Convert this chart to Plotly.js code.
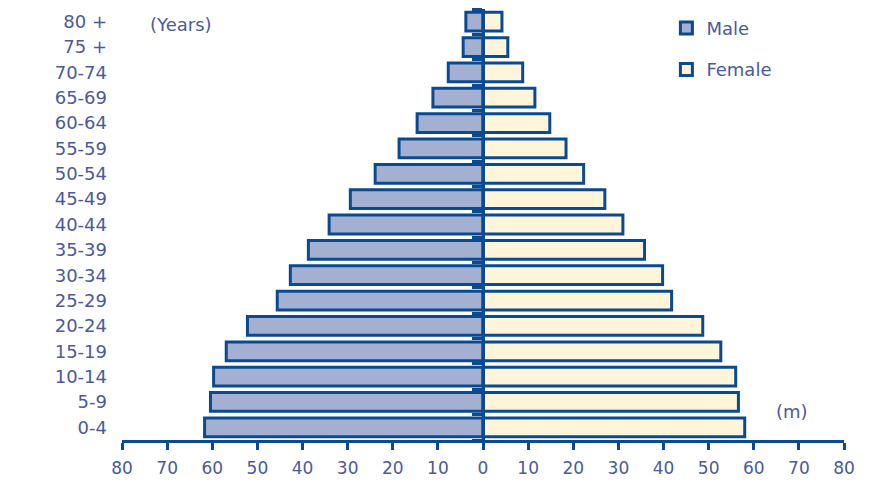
<!DOCTYPE html>
<html>
<head>
<meta charset="utf-8">
<script src="https://cdn.plot.ly/plotly-3.0.1.min.js"></script>
<style>html,body{margin:0;padding:0;background:#fff;}#chart{width:869px;height:482px;}</style>
</head>
<body>
<div id="chart"></div>
<script>
// Age groups (bottom to top)
const ageGroups = ["0-4","5-9","10-14","15-19","20-24","25-29","30-34","35-39","40-44","45-49","50-54","55-59","60-64","65-69","70-74","75 +","80 +"];
// Population in millions
const maleValues   = [61.7, 60.4, 59.7, 56.9, 52.2, 45.6, 42.7, 38.7, 34.1, 29.4, 23.9, 18.6, 14.6, 11.1, 7.7, 4.4, 3.8];
const femaleValues = [58.0, 56.6, 56.0, 52.7, 48.7, 41.8, 39.8, 35.8, 31.0, 27.0, 22.3, 18.4, 14.8, 11.5, 8.8, 5.5, 4.2];
const xTickVals = [-80,-70,-60,-50,-40,-30,-20,-10,0,10,20,30,40,50,60,70,80];
const xTickText = ["80","70","60","50","40","30","20","10","0","10","20","30","40","50","60","70","80"];

const dark = "#0b4a90";
const textCol = "#4a5a9c";
const font = {family: "DejaVu Sans, Verdana, sans-serif", size: 18, color: textCol};

const male = {
  type: "bar", orientation: "h", name: "Male",
  y: ageGroups, x: maleValues.map(v => -v),
  yaxis: "y", legendgroup: "m",
  marker: {color: "#a3b0d1", line: {color: dark, width: 3}},
  hoverinfo: "skip"
};
const female = {
  type: "bar", orientation: "h", name: "Female",
  y: ageGroups, x: femaleValues,
  yaxis: "y2", legendgroup: "f",
  marker: {color: "#fff5da", line: {color: dark, width: 3}},
  hoverinfo: "skip"
};

const layout = {
  width: 869, height: 482,
  margin: {l: 122, r: 25, t: 9, b: 42},
  paper_bgcolor: "#fff", plot_bgcolor: "#fff",
  font: font,
  barmode: "overlay",
  bargap: 0.26,
  showlegend: true,
  legend: {x: 0.754, y: 0.998, xanchor: "left", yanchor: "top", traceorder: "grouped",
           tracegroupgap: 15, font: font, bgcolor: "rgba(0,0,0,0)"},
  xaxis: {range: [-80, 80], tickmode: "array", tickvals: xTickVals, ticktext: xTickText,
          showline: true, linecolor: dark, linewidth: 3, ticks: "outside", ticklen: 7,
          tickwidth: 3, tickcolor: dark, showgrid: false, zeroline: false,
          tickfont: {family: font.family, size: 17, color: textCol},
          ticklabelstandoff: 4, fixedrange: true},
  yaxis: {type: "category", categoryorder: "array", categoryarray: ageGroups,
          range: [-0.5, 16.5], showline: false, ticks: "", showgrid: false,
          zeroline: false, ticklabelstandoff: 14, fixedrange: true},
  yaxis2: {type: "category", categoryorder: "array", categoryarray: ageGroups,
           range: [-0.5, 16.5], overlaying: "y", anchor: "free", position: 0.5, side: "left",
           showline: true, linecolor: dark, linewidth: 3, ticks: "outside", tickson: "boundaries",
           ticklen: 10, tickwidth: 3, tickcolor: dark, showticklabels: false,
           showgrid: false, zeroline: false, fixedrange: true},
  annotations: [
    {text: "(Years)", xref: "paper", yref: "paper", x: 0.0817, y: 0.965, showarrow: false,
     xanchor: "center", yanchor: "middle", font: font},
    {text: "(m)", xref: "paper", yref: "paper", x: 0.928, y: 0.065, showarrow: false,
     xanchor: "center", yanchor: "middle", font: font}
  ]
};

Plotly.newPlot("chart", [male, female], layout, {displayModeBar: false, staticPlot: true});
</script>
</body>
</html>
